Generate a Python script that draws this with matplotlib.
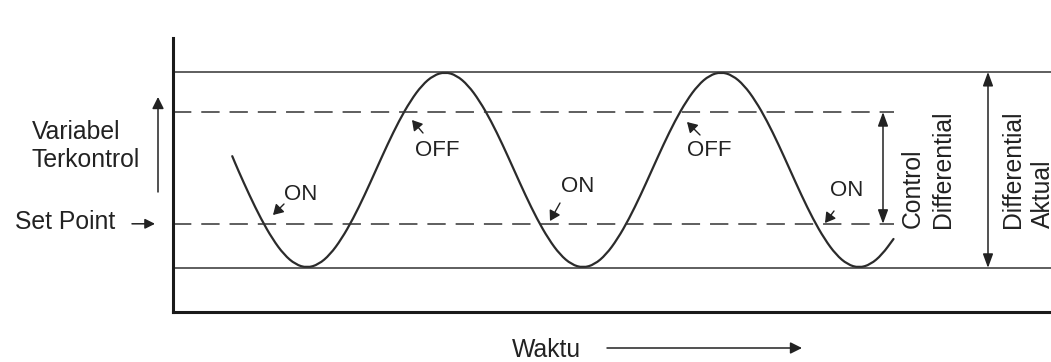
import numpy as np
import matplotlib.pyplot as plt
from matplotlib.path import Path
from matplotlib.patches import PathPatch

plt.rcParams['font.family'] = ['Liberation Sans', 'DejaVu Sans']

# waktu (satuan bebas, periode osilasi = 12) dan variabel terkontrol
waktu = np.concatenate([[2.75], np.arange(3.0, 31.51, 0.5)])
variabel = [31.8,
            29.0, 23.8, 19.0, 14.9, 11.7, 9.7, 9.0, 9.7, 11.7, 14.9, 19.0, 23.8,
            29.0, 34.2, 39.0, 43.1, 46.3, 48.3, 49.0, 48.3, 46.3, 43.1, 39.0, 34.2,
            29.0, 23.8, 19.0, 14.9, 11.7, 9.7, 9.0, 9.7, 11.7, 14.9, 19.0, 23.8,
            29.0, 34.2, 39.0, 43.1, 46.3, 48.3, 49.0, 48.3, 46.3, 43.1, 39.0, 34.2,
            29.0, 23.8, 19.0, 14.9, 11.7, 9.7, 9.0, 9.7, 11.7, 14.9]

# level horizontal
batas_atas = 49.0
level_off = 40.8
set_point = 18.0
batas_bawah = 9.0

W, H = 1051, 362
ink = '#222222'


# posisi piksel gambar -> koordinat data (hanya untuk tata letak label)
def tx(x):
    return (x - 169) / 23.0


def vy(y):
    return (312 - y) / 4.9


fig = plt.figure(figsize=(W / 100, H / 100), dpi=100)
ax = fig.add_axes([173 / W, 50 / H, 878 / W, 274 / H])
ax.set_xlim(tx(173), tx(1051))
ax.set_ylim(0, vy(38))
ax.set_xticks([])
ax.set_yticks([])
for s in ['top', 'right']:
    ax.spines[s].set_visible(False)
for s in ['left', 'bottom']:
    ax.spines[s].set_linewidth(2.2)
    ax.spines[s].set_color('#1a1a1a')

# garis batas
ax.axhline(batas_atas, color='#333333', lw=1.1)
ax.axhline(batas_bawah, color='#333333', lw=1.1)
dash = (0, (12, 6.5))
ax.hlines([level_off, set_point], tx(173), tx(894), colors='#333333', lw=1.1, linestyles=[dash])

# kurva variabel (dihaluskan dengan kurva kuadratik lewat titik tengah)
pts = np.column_stack([waktu, variabel])
mids = (pts[:-1] + pts[1:]) / 2
verts = [pts[0], mids[0]]
codes = [Path.MOVETO, Path.LINETO]
for i in range(1, len(pts) - 1):
    verts += [pts[i], mids[i]]
    codes += [Path.CURVE3, Path.CURVE3]
verts.append(pts[-1])
codes.append(Path.LINETO)
ax.add_patch(PathPatch(Path(verts, codes), facecolor='none', edgecolor='#2b2b2b',
                       lw=1.6, capstyle='round', joinstyle='round'))


def panah(head, tail, style='-|>', ms=8, lw=1.0):
    ax.annotate('', xy=head, xytext=tail, annotation_clip=False,
                arrowprops=dict(arrowstyle=style, color=ink, lw=lw, mutation_scale=ms,
                                shrinkA=0, shrinkB=0))


# label ON / OFF
on_off = [
    ('ON', (301, 195), (273, 215), (284, 204)),
    ('OFF', (437, 151), (412, 120), (423, 133)),
    ('ON', (578, 187), (550, 221), (560, 203)),
    ('OFF', (709, 150), (687, 122), (700, 135)),
    ('ON', (847, 190), (825, 223), (834, 211)),
]
for label, pos, head, tail in on_off:
    ax.text(tx(pos[0]), vy(pos[1]), label, ha='center', va='center', fontsize=16, color=ink)
    panah((tx(head[0]), vy(head[1])), (tx(tail[0]), vy(tail[1])),
          style='-|>,head_length=0.5,head_width=0.3', ms=12)

# panah diferensial
dbl = '<|-|>,head_length=0.6,head_width=0.22'
panah((tx(883), level_off), (tx(883), set_point), style=dbl, ms=14, lw=1.1)
panah((tx(988), batas_atas), (tx(988), batas_bawah), style=dbl, ms=14, lw=1.1)
ax.text(tx(928), vy(228), 'Control\nDifferential', rotation=90, ha='center', va='bottom',
        multialignment='left', fontsize=17.8, color=ink, linespacing=1.3)
ax.text(tx(1028), vy(228), 'Differential\nAktual', rotation=90, ha='center', va='bottom',
        multialignment='left', fontsize=17.8, color=ink, linespacing=1.3)

# label sumbu
ax.text(tx(32), vy(146), 'Variabel\nTerkontrol', ha='left', va='center',
        multialignment='left', fontsize=17.8, color=ink, linespacing=1.25)
panah((tx(158), vy(97)), (tx(158), vy(192)), style='-|>,head_length=0.5,head_width=0.25', ms=14, lw=1.1)
ax.text(tx(15), vy(222), 'Set Point', ha='left', va='center', fontsize=17.8, color=ink)
panah((tx(155), set_point), (tx(132), set_point), style='-|>,head_length=0.5,head_width=0.25', ms=12, lw=1.1)
ax.text(tx(512), vy(350), 'Waktu', ha='left', va='center', fontsize=17.8, color=ink)
panah((tx(802), vy(348)), (tx(607), vy(348)), style='-|>,head_length=0.5,head_width=0.25', ms=14, lw=1.1)

fig.savefig('out.png', dpi=100)
